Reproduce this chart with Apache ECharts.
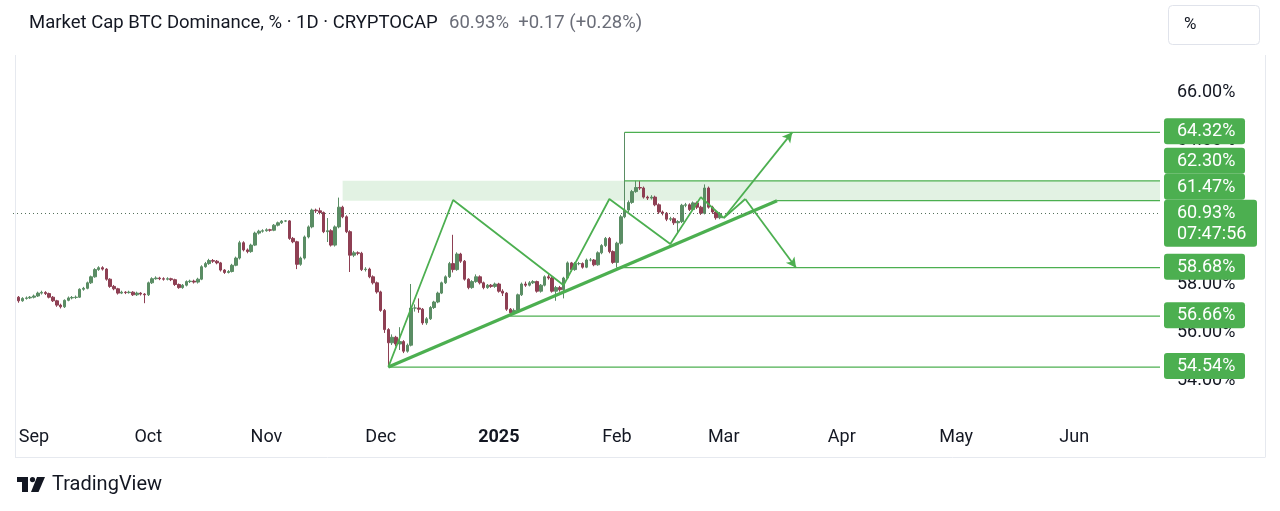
<!DOCTYPE html>
<html><head><meta charset="utf-8">
<script src="https://cdn.jsdelivr.net/npm/echarts@6/dist/echarts.min.js"></script>
<style>html,body{margin:0;padding:0;background:#fff;}#c{width:1280px;height:511px;}</style>
</head><body><div id="c"></div><script>
// ---------- DATA ----------
const startDate = '2024-08-28';
// [open, close, low, high] one candle per day from startDate
const candles = [
[57.45,57.30,57.22,57.50],[57.30,57.40,57.26,57.45],[57.40,57.42,57.35,57.48],[57.42,57.45,57.38,57.50],
[57.45,57.50,57.40,57.56],[57.50,57.62,57.46,57.68],[57.62,57.65,57.56,57.72],[57.65,57.60,57.54,57.70],[57.60,57.45,57.40,57.64],
[57.45,57.30,57.25,57.50],[57.30,57.12,57.05,57.34],[57.12,57.05,56.98,57.18],[57.05,57.32,57.00,57.36],[57.32,57.42,57.28,57.48],
[57.42,57.44,57.36,57.50],[57.44,57.45,57.38,57.52],[57.45,57.78,57.42,57.82],[57.78,57.82,57.72,57.88],[57.82,58.05,57.78,58.10],
[58.05,58.30,58.00,58.35],[58.30,58.60,58.26,58.66],[58.60,58.68,58.55,58.74],[58.68,58.62,58.56,58.74],[58.62,58.20,58.14,58.66],
[58.20,57.90,57.84,58.24],[57.90,57.80,57.74,57.96],[57.80,57.62,57.56,57.84],[57.62,57.66,57.58,57.72],[57.66,57.64,57.58,57.70],
[57.64,57.66,57.60,57.72],[57.66,57.55,57.50,57.70],[57.55,57.62,57.50,57.68],[57.62,57.58,57.52,57.66],[57.58,57.55,57.20,57.62],
[57.55,58.05,57.50,58.10],[58.05,58.22,58.00,58.28],[58.22,58.25,58.18,58.32],[58.25,58.22,58.16,58.30],[58.22,58.20,58.14,58.28],
[58.20,58.22,58.15,58.28],[58.22,58.18,58.12,58.26],[58.18,57.98,57.92,58.22],[57.98,57.85,57.80,58.02],[57.85,57.95,57.80,58.00],
[57.95,58.10,57.90,58.15],[58.10,58.12,58.04,58.18],[58.12,58.08,58.02,58.18],[58.08,58.20,58.02,58.26],[58.20,58.72,58.16,58.78],
[58.72,58.85,58.68,58.92],[58.85,58.98,58.80,59.05],[58.98,58.95,58.88,59.04],[58.95,58.88,58.82,59.00],[58.88,58.58,58.52,58.92],
[58.58,58.48,58.42,58.62],[58.48,58.52,58.44,58.58],[58.52,58.78,58.48,58.84],[58.78,59.08,58.74,59.14],[59.08,59.72,59.02,59.80],
[59.72,59.42,59.36,59.78],[59.42,59.35,59.28,59.48],[59.35,59.62,59.30,59.68],[59.62,60.12,59.58,60.18],[60.12,60.20,60.06,60.26],
[60.20,60.22,60.14,60.28],[60.22,60.26,60.18,60.32],[60.26,60.24,60.18,60.30],[60.24,60.45,60.20,60.50],[60.45,60.55,60.40,60.60],
[60.55,60.62,60.50,60.66],[60.62,60.63,60.58,60.66],[60.63,59.90,59.84,60.66],[59.90,59.76,59.70,59.96],[59.76,58.82,58.62,59.80],
[58.82,59.08,58.76,59.14],[59.08,59.96,59.02,60.02],[59.96,60.38,59.90,60.44],[60.38,61.08,60.32,61.14],[61.08,61.05,60.96,61.14],
[61.05,60.98,60.90,61.18],[60.98,60.18,60.12,61.02],[60.18,60.22,59.75,60.75],[60.22,59.62,59.56,60.28],[59.62,60.38,59.56,60.44],
[60.38,61.20,60.32,61.60],[61.20,60.80,60.74,61.26],[60.80,60.18,60.12,60.86],[60.18,59.20,58.50,60.24],[59.20,59.30,59.12,59.38],
[59.30,59.28,59.20,59.36],[59.28,58.60,58.54,59.34],[58.60,58.62,58.52,58.70],[58.62,58.30,58.24,58.68],[58.30,58.05,57.98,58.36],
[58.05,57.67,57.60,58.10],[57.67,56.90,56.84,57.72],[56.90,56.10,55.96,56.96],[56.10,55.55,54.54,56.16],[55.55,55.78,55.46,55.90],
[55.78,55.50,55.40,55.84],[55.50,55.60,55.25,56.20],[55.60,55.20,55.12,55.66],[55.20,55.45,55.14,55.52],[55.45,57.00,55.40,58.00],
[57.00,57.00,56.85,57.15],[57.00,56.95,56.80,57.40],[56.95,56.38,56.30,57.00],[56.38,56.55,56.30,56.62],[56.55,57.02,56.50,57.08],
[57.02,57.25,56.96,57.30],[57.25,57.62,57.20,57.68],[57.62,58.05,57.58,58.10],[58.05,58.30,58.00,58.36],[58.30,58.85,58.25,58.92],
[58.85,58.60,58.48,60.05],[58.60,59.25,58.55,59.32],[59.25,58.95,58.88,59.30],[58.95,58.20,58.14,59.00],[58.20,57.85,57.78,58.24],
[57.85,58.10,57.80,58.16],[58.10,58.30,58.05,58.40],[58.30,58.05,57.98,58.36],[58.05,57.85,57.78,58.10],[57.85,57.95,57.80,58.00],
[57.95,57.90,57.84,58.00],[57.90,58.00,57.84,58.06],[58.00,57.70,57.64,58.05],[57.70,57.62,57.50,57.78],[57.62,56.95,56.88,57.66],
[56.95,56.80,56.66,57.00],[56.80,56.90,56.74,56.98],[56.90,57.55,56.86,57.60],[57.55,58.00,57.50,58.06],[58.00,57.95,57.88,58.10],
[57.95,58.05,57.90,58.12],[58.05,58.10,58.00,58.16],[58.10,57.70,57.64,58.14],[57.70,57.95,57.64,58.00],[57.95,58.30,57.90,58.36],
[58.30,58.25,58.18,58.40],[58.25,57.70,57.64,58.30],[57.70,57.85,57.30,57.92],[57.85,57.76,57.68,57.92],[57.76,58.25,57.40,58.30],
[58.25,58.88,58.20,58.94],[58.88,58.60,58.52,58.92],[58.60,58.85,58.55,58.92],[58.85,58.85,58.78,58.92],[58.85,58.70,58.64,58.90],
[58.70,59.00,58.66,59.06],[59.00,59.00,58.94,59.08],[59.00,58.80,58.74,59.04],[58.80,59.30,58.76,59.36],[59.30,59.60,59.24,59.66],
[59.60,59.90,59.54,59.96],[59.90,59.35,59.28,59.96],[59.35,58.90,58.84,59.40],[58.90,59.70,58.68,59.76],[59.70,60.80,59.64,60.88],
[60.80,61.08,60.74,64.32],[61.08,61.40,61.00,61.48],[61.40,61.85,61.34,61.92],[61.85,62.02,61.80,62.30],[62.02,62.00,61.92,62.30],
[62.00,61.62,61.56,62.06],[61.62,61.58,61.50,61.68],[61.58,61.62,61.52,61.70],[61.62,61.30,61.24,61.68],[61.30,61.00,60.92,61.36],
[61.00,60.95,60.86,61.06],[60.95,60.70,60.62,61.00],[60.70,60.72,60.62,60.80],[60.72,60.55,60.46,60.78],[60.55,60.60,60.10,60.66],
[60.60,61.28,60.54,61.34],[61.28,61.30,61.20,61.38],[61.30,61.10,61.04,61.36],[61.10,61.38,61.04,61.44],[61.38,61.20,61.12,61.44],
[61.20,60.95,60.88,61.26],[60.95,62.00,60.90,62.15],[62.00,61.20,61.14,62.06],[61.20,61.00,60.92,61.26],[61.00,60.76,60.68,61.06],
[60.76,60.93,60.70,61.00]
];
const axisStart = '2024-08-26T12:00';
const axisEnd = '2025-06-23T12:00';
const monthTicks = ['2024-09-01','2024-10-01','2024-11-01','2024-12-01','2025-01-01','2025-02-01','2025-03-01','2025-04-01','2025-05-01','2025-06-01'];
const monthLabels = ['Sep','Oct','Nov','Dec','2025','Feb','Mar','Apr','May','Jun'];
const priceTicks = [54,56,58,60,62,64,66];
const zigzag = [['2024-12-03',54.54],['2024-12-20',61.50],['2025-01-18',57.95],['2025-01-30',61.54],['2025-02-15',59.67],['2025-02-23',61.62],['2025-03-01',60.75]];
const trendLine = [['2024-12-03',54.54],['2025-03-15',61.47]];
const arrowUp = [['2025-03-01',60.75],['2025-03-19',64.32]];
const arrowDownA = [['2025-03-01',60.75],['2025-03-06T16:00',61.54]];
const arrowDownB = [['2025-03-06T16:00',61.54],['2025-03-20',58.68]];
const levels = [
  {v:64.32, from:'2025-02-03'}, {v:62.30, from:'2025-02-03'}, {v:61.47, from:'2025-03-15'},
  {v:58.68, from:'2025-02-01'}, {v:56.66, from:'2025-01-04'}, {v:54.54, from:'2024-12-03'}
];
const zone = {from:'2024-11-21', top:62.30, bottom:61.47};
const lastPrice = 60.93;
const countdown = '07:47:56';
const titleText = 'Market Cap BTC Dominance, % · 1D · CRYPTOCAP';
const quoteText = '60.93%  +0.17 (+0.28%)';

// ---------- BUILD ----------
const T = s => Date.parse(s.length === 10 ? s + 'T00:00:00Z' : s + ':00Z');
const DAY = 86400000;
const t0 = T(startDate);
const candleData = candles.map((r, i) => [t0 + i * DAY, r[0], r[1], r[2], r[3]]);
const pts = arr => arr.map(p => [T(p[0]), p[1]]);
const UP = '#5a8d64', DOWN = '#8e3f53', GREEN = '#4caf50', TXT = '#131722', FONT = 'Roboto, "Noto Sans", sans-serif';
const labelMap = {};
monthTicks.forEach((m, k) => labelMap[T(m)] = monthLabels[k]);

const chart = echarts.init(document.getElementById('c'), null, {renderer: 'canvas'});

const series = [
  { type: 'line', data: [], markArea: { silent: true, itemStyle: { color: 'rgba(76,175,80,0.16)' },
      data: [[{ coord: [T(zone.from), zone.top] }, { coord: [T(axisEnd), zone.bottom] }]] }, z: 1 },
  { type: 'candlestick', data: candleData, barWidth: 3, z: 2, encode: { x: 0, y: [1, 2, 3, 4] },
    itemStyle: { color: UP, color0: DOWN, borderColor: UP, borderColor0: DOWN, borderWidth: 1 },
    markLine: { silent: true, symbol: 'none', label: { show: false },
      lineStyle: { type: [1, 3], color: '#55705b', width: 1 }, data: [{ yAxis: lastPrice }] } }
];
levels.forEach(l => series.push({ type: 'line', data: [[T(l.from), l.v], [T(axisEnd), l.v]], symbol: 'none', silent: true, z: 3,
  lineStyle: { color: GREEN, width: 1.2 } }));
series.push({ type: 'line', data: pts(zigzag), symbol: 'none', silent: true, z: 4, lineStyle: { color: GREEN, width: 1.8 } });
series.push({ type: 'line', data: pts(trendLine), symbol: 'none', silent: true, z: 4, lineStyle: { color: GREEN, width: 3.2 } });
series.push({ type: 'line', data: pts(arrowDownA), symbol: 'none', silent: true, z: 4, lineStyle: { color: GREEN, width: 1.8 } });
series.push({ type: 'line', data: [], z: 4, markLine: { silent: true, label: { show: false }, animation: false,
  lineStyle: { color: GREEN, width: 1.8, type: 'solid' },
  data: [
    [{ coord: pts(arrowUp)[0], symbol: 'none' }, { coord: pts(arrowUp)[1], symbol: 'arrow', symbolSize: [8, 10] }],
    [{ coord: pts(arrowDownB)[0], symbol: 'none' }, { coord: pts(arrowDownB)[1], symbol: 'arrow', symbolSize: [8, 10] }]
  ] } });

chart.setOption({
  animation: false,
  backgroundColor: '#ffffff',
  textStyle: { fontFamily: FONT },
  grid: { left: 13, right: 120, top: 56, bottom: 95 },
  xAxis: { type: 'value', min: T(axisStart), max: T(axisEnd), scale: true,
    axisLine: { show: false }, axisTick: { show: false }, splitLine: { show: false },
    axisLabel: { customValues: monthTicks.map(T), hideOverlap: false, margin: 12, color: TXT, fontSize: 18, fontFamily: FONT,
      formatter: v => labelMap[v] === '2025' ? '{b|2025}' : (labelMap[v] || ''),
      rich: { b: { fontWeight: 'bold', fontSize: 18, color: TXT, fontFamily: FONT } } } },
  yAxis: { type: 'value', position: 'right', min: 52.5, max: 67.5, scale: true,
    axisLine: { show: false }, axisTick: { show: false }, splitLine: { show: false },
    axisLabel: { customValues: priceTicks, margin: 17, color: TXT, fontSize: 18, fontFamily: FONT, formatter: v => v.toFixed(2) + '%' } },
  series
});

// ---------- overlay graphics ----------
const yOf = v => chart.convertToPixel({ yAxisIndex: 0 }, v);
const els = [];
const frame = '#e6e9ef';
els.push({ type: 'line', shape: { x1: 15.5, y1: 55, x2: 15.5, y2: 457.5 }, style: { stroke: frame, lineWidth: 1 }, z: 0 });
els.push({ type: 'line', shape: { x1: 15, y1: 457.5, x2: 1265, y2: 457.5 }, style: { stroke: frame, lineWidth: 1 }, z: 0 });
els.push({ type: 'line', shape: { x1: 1265.5, y1: 55, x2: 1265.5, y2: 457.5 }, style: { stroke: frame, lineWidth: 1 }, z: 0 });
els.push({ type: 'text', x: 29, y: 23, style: { text: titleText, fill: TXT, font: '18.5px ' + FONT, textVerticalAlign: 'middle' }, z: 50 });
els.push({ type: 'text', x: 449, y: 23, style: { text: quoteText, fill: '#6a6d78', font: '18.5px ' + FONT, textVerticalAlign: 'middle' }, z: 50 });
els.push({ type: 'rect', shape: { x: 1168.5, y: 5.5, width: 91, height: 39, r: 4 }, style: { fill: '#fff', stroke: '#e0e3eb', lineWidth: 1 }, z: 50 });
els.push({ type: 'text', x: 1184, y: 25, style: { text: '%', fill: TXT, font: '17px ' + FONT, textVerticalAlign: 'middle' }, z: 51 });
els.push({ type: 'rect', shape: { x: 17, y: 477, width: 11, height: 5 }, style: { fill: TXT }, z: 50 });
els.push({ type: 'rect', shape: { x: 22, y: 477, width: 6, height: 15 }, style: { fill: TXT }, z: 50 });
els.push({ type: 'circle', shape: { cx: 32.5, cy: 479.6, r: 2.6 }, style: { fill: TXT }, z: 50 });
els.push({ type: 'polygon', shape: { points: [[37, 477], [45, 477], [38.5, 492], [31, 492]] }, style: { fill: TXT }, z: 50 });
els.push({ type: 'text', x: 52, y: 485, style: { text: 'TradingView', fill: TXT, font: '20px ' + FONT, textVerticalAlign: 'middle' }, z: 50 });

const H = 26;
const ly = yOf(lastPrice);
const lastTop = ly - 14, lastBot = lastTop + 47;
const boxes = levels.map(l => ({ v: l.v, c: yOf(l.v) }));
let limit = lastTop;
boxes.filter(b => b.v > lastPrice).sort((a, b) => b.c - a.c).forEach(b => {
  let top = b.c - 14; if (top + H > limit) top = limit - H; b.top = top; limit = top;
});
limit = lastBot;
boxes.filter(b => b.v < lastPrice).sort((a, b) => a.c - b.c).forEach(b => {
  let top = b.c - 14; if (top < limit) top = limit; b.top = top; limit = top + H;
});
boxes.forEach(b => {
  els.push({ type: 'rect', shape: { x: 1164, y: b.top, width: 81, height: H, r: 3 }, style: { fill: GREEN }, z: 60 });
  els.push({ type: 'text', x: 1177, y: b.top + H / 2 + 0.5, style: { text: b.v.toFixed(2) + '%', fill: '#fff', font: '18px ' + FONT, textVerticalAlign: 'middle' }, z: 61 });
});
els.push({ type: 'rect', shape: { x: 1164, y: lastTop, width: 93, height: 47, r: 3 }, style: { fill: GREEN }, z: 60 });
els.push({ type: 'text', x: 1177, y: lastTop + 13.5, style: { text: lastPrice.toFixed(2) + '%', fill: '#fff', font: '18px ' + FONT, textVerticalAlign: 'middle' }, z: 61 });
els.push({ type: 'text', x: 1177, y: lastTop + 35, style: { text: countdown, fill: '#fff', font: '18px ' + FONT, textVerticalAlign: 'middle' }, z: 61 });

chart.setOption({ graphic: { elements: els } });
</script></body></html>
